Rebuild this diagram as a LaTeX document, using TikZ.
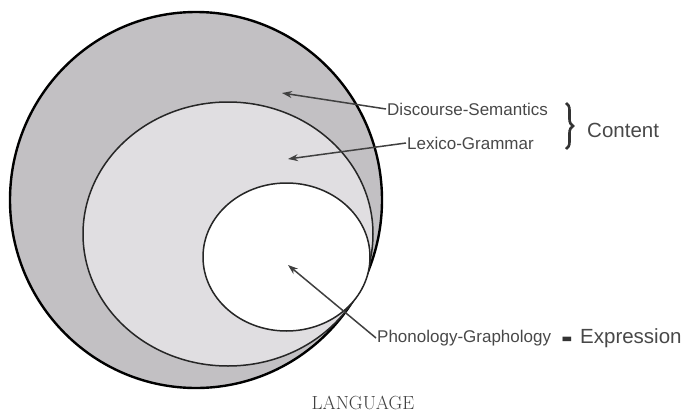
\documentclass[tikz,border=0pt]{standalone}
\usepackage{fontspec}
\newfontfamily\labelfont{Liberation Sans}
\usepackage{xcolor}
\usetikzlibrary{arrows.meta,decorations.pathreplacing}
\definecolor{outergray}{RGB}{194,192,195}
\definecolor{midgray}{RGB}{224,222,225}
\definecolor{txtgray}{RGB}{72,72,72}

\begin{document}
\begin{tikzpicture}[x=1pt,y=-1pt,
        lbl/.style={font=\labelfont\fontsize{17}{20}\selectfont, text=txtgray, inner sep=1pt, anchor=west},
        biglbl/.style={font=\labelfont\fontsize{20.5}{24}\selectfont, text=txtgray, inner sep=1pt, anchor=west},
        pointer/.style={-{Stealth[length=10pt,width=7pt]}, line width=1.5pt, draw=black!75}]
        \useasboundingbox (0,0) rectangle (689,413);

        % the three levels
        \fill[outergray] (196,200) ellipse [x radius=186, y radius=188];
        \draw[line width=2.4pt] (196,200) ellipse [x radius=186, y radius=188];
        \fill[midgray] (228,234) ellipse [x radius=145, y radius=132];
        \draw[line width=1.5pt, black!85] (228,234) ellipse [x radius=145, y radius=132];
        \fill[white] (286.5,257) ellipse [x radius=83.5, y radius=74];
        \draw[line width=1.5pt, black!85] (286.5,257) ellipse [x radius=83.5, y radius=74];

        \coordinate (dstip) at (282,93);
        \coordinate (lgtip) at (288,159);
        \coordinate (pgtip) at (288,265);

        \node[lbl] (ds) at (386,109) {Discourse-Semantics};
        \node[lbl] (lg) at (406,143) {Lexico-Grammar};
        \node[lbl] (pg) at (376,338) {Phonology-Graphology};

        \draw[pointer] (ds.west) -- (dstip);
        \draw[pointer] (lg.west) -- (lgtip);
        \draw[pointer] (pg.west) -- (pgtip);

        \coordinate (bracetop) at (566,103);
        \coordinate (bracebot) at (566,149);
        \draw[decorate, decoration={brace, amplitude=7pt}, line width=2.6pt, black!80] (bracetop) -- (bracebot);
        \node[biglbl] (content) at (586,130) {Content};

        \node[biglbl, font=\labelfont\bfseries\fontsize{20.5}{24}\selectfont, text=black!80] (dash) at (561,344) {\scalebox{0.85}[2.2]{\textendash}};
        \node[biglbl] (expr) at (579,338) {Expression};

        \node[font=\fontsize{19}{22}\selectfont, text=black!75] (lang) at (363,403) {LANGUAGE};
\end{tikzpicture}
\end{document}
